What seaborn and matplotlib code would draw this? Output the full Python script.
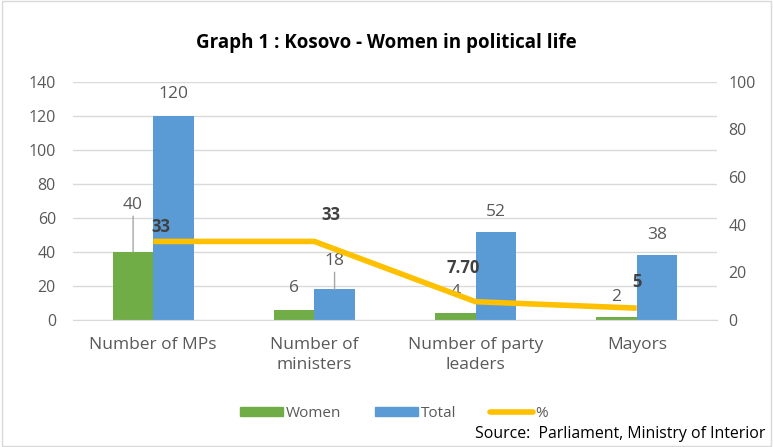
import pandas as pd
import numpy as np
import matplotlib.pyplot as plt
import seaborn as sns
from matplotlib.patches import Rectangle, Patch
from matplotlib.lines import Line2D

categories = ['Number of MPs', 'Number of\nministers', 'Number of party\nleaders', 'Mayors']
women = [40, 6, 4, 2]
total = [120, 18, 52, 38]
percent = [33, 33, 7.70, 5]
percent_labels = ['33', '33', '7.70', '5']

green = '#70ad47'
blue = '#5b9bd5'
yellow = '#ffc000'
grey_text = '#595959'

sns.set_style('white')
plt.rcParams['font.family'] = ['Open Sans', 'DejaVu Sans']

data = pd.DataFrame({
    'category': categories * 2,
    'value': women + total,
    'series': ['Women'] * 4 + ['Total'] * 4,
})

fig = plt.figure(figsize=(7.73, 4.47), dpi=100)
ax = fig.add_axes([0.094, 0.284, 0.834, 0.533])

sns.barplot(data=data, x='category', y='value', hue='series',
            palette=[green, blue], width=0.5, ax=ax, legend=False,
            saturation=1, linewidth=0)

ax.set_ylim(0, 140)
ax.set_yticks(range(0, 141, 20))
ax.yaxis.grid(True, color='#d9d9d9', linewidth=1)
ax.set_axisbelow(True)
ax.set_xlabel('')
ax.set_ylabel('')
for s in ['top', 'left', 'right']:
    ax.spines[s].set_visible(False)
ax.spines['bottom'].set_color('#d9d9d9')
ax.tick_params(axis='y', length=0, labelsize=11.5, labelcolor=grey_text, pad=12)
ax.tick_params(axis='x', length=0, labelsize=12.5, labelcolor=grey_text, pad=12)
for lbl in ax.get_xticklabels():
    lbl.set_linespacing(1.35)
ax.set_xlim(-0.5, len(categories) - 0.5)
# tick marks between categories
ax.set_xticks(np.arange(len(categories) - 1) + 0.5, minor=True)
ax.tick_params(axis='x', which='minor', length=6, color='#d9d9d9', direction='out')

# line on secondary axis
ax2 = ax.twinx()
pos = np.arange(len(categories))
sns.lineplot(x=pos, y=percent, color=yellow, linewidth=4, ax=ax2,
             solid_capstyle='butt')
ax2.set_ylim(0, 100)
ax2.set_yticks(range(0, 101, 20))
ax2.set_xlim(-0.5, len(categories) - 0.5)
for s in ['top', 'left', 'right', 'bottom']:
    ax2.spines[s].set_visible(False)
ax2.tick_params(axis='y', length=0, labelsize=11.5, labelcolor=grey_text, pad=8)

# data labels for bars: (offset above bar in data units, leader line?)
w_off = [(23, True), (8, False), (8, False), (7, False)]
t_off = [(8, False), (12, True), (7, False), (7.5, False)]
lead_style = dict(arrowstyle='-', color='#a6a6a6', lw=1, shrinkA=0, shrinkB=0)
for i in range(len(categories)):
    for vals, offs, xb in [(women, w_off, i - 0.125), (total, t_off, i + 0.125)]:
        dy, lead = offs[i]
        ax.annotate(str(vals[i]), xy=(xb, vals[i]), xytext=(xb, vals[i] + dy),
                    ha='center', va='bottom', fontsize=12.5, color=grey_text,
                    arrowprops=lead_style if lead else None)

p_off = [(0.045, 6), (0.1, 11), (-0.075, 14), (0.0, 11)]
for i in range(len(categories)):
    dx, dy = p_off[i]
    ax2.text(i + dx, percent[i] + dy, percent_labels[i], ha='center', va='center',
             fontsize=12, fontweight='bold', color='#404040')

fig.text(0.5, 0.904, 'Graph 1 : Kosovo - Women in political life', ha='center',
         va='center', fontsize=13.5, fontweight='bold', color='black')

handles = [Patch(color=green, label='Women'), Patch(color=blue, label='Total'),
           Line2D([0], [0], color=yellow, lw=4, label='%')]
fig.legend(handles=handles, loc='center', bbox_to_anchor=(0.51, 0.075), ncol=3,
           frameon=False, fontsize=11, labelcolor=grey_text, handlelength=2.8,
           handleheight=0.6, columnspacing=2.2, handletextpad=0.2)

fig.text(0.99, 0.02, 'Source:  Parliament, Ministry of Interior', ha='right',
         fontsize=11.4, color='black')

fig.patches.append(Rectangle((0.003, 0.003), 0.994, 0.994, transform=fig.transFigure,
                             fill=False, edgecolor='#d9d9d9', linewidth=1))

fig.savefig('out.png', dpi=100)
